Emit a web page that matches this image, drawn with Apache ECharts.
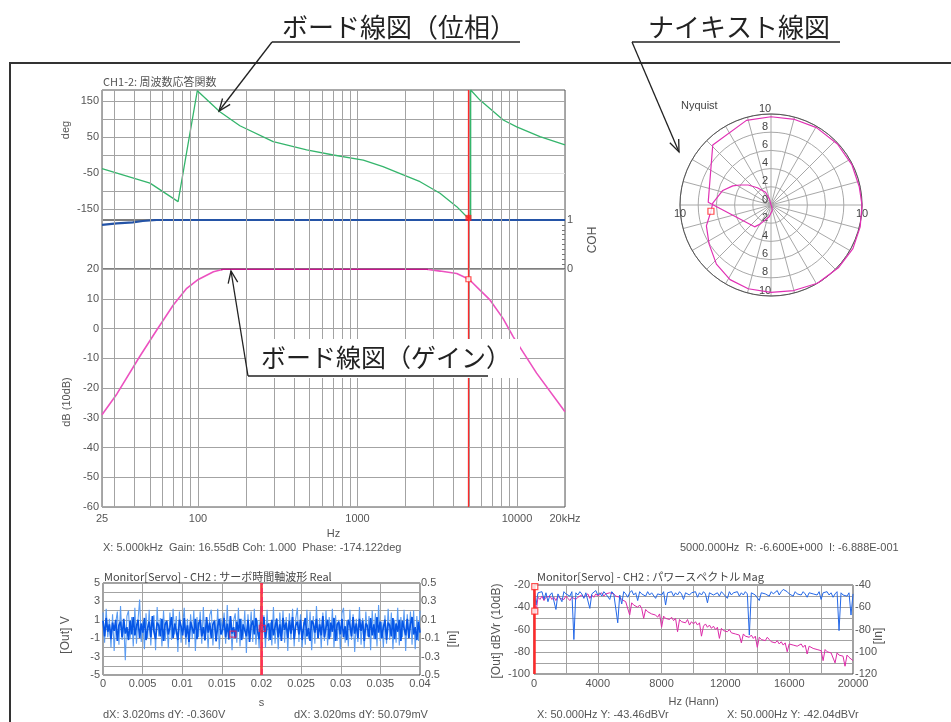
<!DOCTYPE html>
<html><head><meta charset="utf-8">
<script src="https://cdn.jsdelivr.net/npm/echarts@6/dist/echarts.min.js"></script>
<style>html,body{margin:0;padding:0;background:#fff}#c{width:951px;height:722px}</style>
</head><body><div id="c"></div>
<script>
// ---------------- data ----------------
const phaseFreq = [25, 50, 75, 99, 137, 183, 296, 480, 705, 1087, 1445, 1936, 2467, 3290, 4190, 4840, 5000, 5124, 5124, 5860, 8200, 9960, 13930, 20000];
const phaseDeg  = [-38, -78, -129, 178, 120, 81, 37, 14, 0, -14, -32, -55, -74, -106, -143, -171, -174, -180, 180, 152, 97, 78, 51, 28];
const gainFreq = [25, 31, 43, 55, 70, 85, 99, 125, 144, 2717, 3290, 4190, 5000, 5860, 6770, 8170, 9480, 13270, 20000];
const gainDb   = [-29, -22, -9.5, -0.6, 7.9, 13.5, 16.3, 19.1, 19.9, 19.9, 19.3, 18.5, 16.55, 12.9, 9.6, 3.4, -2.8, -15, -28];
const cohFreq = [25, 31, 39, 45, 55, 20000];
const cohVal  = [0.9, 0.93, 0.95, 0.98, 1, 1];
const minorFreqs = [30,40,50,60,70,80,90,200,300,400,500,600,700,800,900,2000,3000,4000,5000,6000,7000,8000,9000];
const phaseGridVals = [-150,-100,-50,0,50,100,150];
const phaseLabelVals = [-150,-50,50,150];
const cursorFreq = 4960, cursorPhase = -174.122, cursorGain = 16.55;

const nyqRe = [0.02, 0.1, 0.13, -0.2, -1.2, -1.8, -6.9, -6.4, -2.7, 0.0, 2.6, 5.0, 7.3, 8.9, 9.7, 10.0, 9.8, 9.0, 7.4, 5.1, 2.5, 0.0, -2.5, -4.5, -6.0, -6.8, -7.1, -6.6, -6.4, -5.3, -4.2, -3.4, -2.5, -1.5, -0.6, -0.15, 0.0];
const nyqIm = [-0.01, -0.25, -0.6, -1.3, -2.1, -2.4, 0.3, 6.6, 9.3, 9.7, 9.4, 8.5, 6.7, 4.4, 2.0, 0.0, -2.4, -4.8, -6.9, -8.6, -9.4, -9.6, -9.2, -8.2, -6.5, -4.3, -2.3, -0.69, 0.2, 1.6, 2.1, 2.2, 2.2, 1.9, 1.4, 0.6, 0.0];
const nyqCursor = [-6.6, -0.6888];

const timeEnd = 0.04;
const timeDark = [
0.9,-0.8,1.2,-0.3,0.5,-1.1,0.7,-0.2,1.0,-1.3,0.4,0.8,-0.9,1.1,-0.5,0.2,-1.2,0.9,-0.6,1.3,
-0.7,0.3,1.0,-1.0,0.6,-0.4,1.2,-1.2,0.1,0.8,-0.9,1.4,-0.3,-1.1,0.7,0.4,-0.8,1.1,-1.3,0.5,
0.9,-0.6,0.2,1.3,-1.0,0.6,-0.2,-1.2,1.0,0.3,-0.7,1.2,-0.9,0.4,-1.4,0.8,0.1,-0.5,1.1,-1.1,
0.6,1.0,-0.8,0.2,-1.2,1.3,-0.4,0.7,-1.0,0.5,0.9,-1.3,0.3,1.1,-0.6,-0.1,1.2,-0.9,0.6,-1.1,
1.4,-0.5,0.2,-1.0,0.8,-0.3,1.1,-1.2,0.5,0.7,-0.8,1.0,-1.4,0.4,0.9,-0.6,1.2,-0.2,-1.1,0.8,
-0.4,1.3,-1.0,0.3,0.6,-1.2,1.0,-0.7,0.2,1.1,-0.9,0.5,-1.3,1.2,-0.1,0.7,-1.0,0.9,-0.5,1.3,
-1.1,0.4,0.8,-0.6,1.0,-1.2,0.3,1.2,-0.8,0.1,-1.3,0.9,0.6,-0.4,1.1,-1.0,0.5,-0.7,1.4,-0.9,
0.2,1.0,-1.1,0.7,-0.3,1.2,-1.3,0.5,0.8,-0.6,1.1,-0.9,0.3,-1.2,1.0,0.4,-0.8,1.3,-0.5,0.6,
-1.0,1.1,-0.2,0.9,-1.3,0.6,0.3,-0.9,1.2,-0.7,0.5,-1.1,1.3,-0.4,0.8,-1.0,0.2,1.0,-1.2,0.7,
0.4,-0.8,1.2,-1.1,0.6,-0.3,1.0,-1.3,0.9,0.1,-0.7,1.1,-1.0,0.5,1.3,-0.6,0.2,-1.2,0.8,-0.4];
const timeLight = [
1.8,-1.5,2.2,-0.9,1.1,-2.0,1.6,-2.4,0.7,1.9,-1.7,2.5,-1.2,0.6,-3.4,1.4,2.0,-1.1,1.3,-1.9,
2.3,-1.6,1.0,3.2,-1.4,0.8,-2.2,1.7,-1.0,2.1,-1.8,0.9,1.5,-2.3,2.4,-0.8,1.2,-1.9,2.0,-1.3,
0.7,-2.1,1.8,-1.2,2.2,-0.6,1.4,-2.5,1.9,-1.5,0.5,2.3,-1.7,1.1,-2.0,1.6,-1.1,2.0,-2.4,1.3,
-0.9,1.9,-1.6,2.4,-1.3,0.8,-2.1,1.5,2.1,-1.8,1.0,-1.4,2.2,-2.2,1.2,-0.7,1.8,-1.6,2.6,-1.2,
1.4,-2.3,0.9,1.7,-1.5,2.3,-1.9,1.1,-1.0,2.0,-2.6,1.6,-0.8,1.9,-1.4,2.2,-1.7,1.0,-2.1,2.5,
-1.1,1.5,-2.0,2.1,-1.3,0.7,-1.8,2.4,-1.6,1.2,-2.2,1.8,-0.9,2.0,-1.5,1.3,-2.4,1.7,-1.2,2.2,
-1.9,1.1,2.3,-1.4,1.6,-2.0,0.8,-1.7,2.1,-1.1,1.9,-2.3,1.4,-1.6,2.5,-1.0,1.2,-2.1,1.8,-1.3,
2.0,-1.8,1.3,-0.9,2.2,-2.0,1.5,-1.3,1.0,-2.2,1.7,2.3,-1.5,0.9,-1.9,2.1,-1.2,1.6,-2.5,1.1,
-1.4,2.4,-1.7,1.2,-2.1,1.9,-0.8,1.4,-2.3,2.0,-1.1,1.7,-1.9,2.6,-1.3,0.8,-2.0,1.5,-1.6,2.2,
-1.2,1.8,-2.2,1.0,-1.5,2.3,-1.8,1.3,-0.9,2.1,-2.4,1.6,-1.0,1.9,-1.7,2.0,-2.2,1.4,-1.3,2.0];
const timeCursorA = 0.0164, timeCursorB = 0.0201;
const timeMarks = [[0.0164, -0.55], [0.0201, 0.07]];

const specStep = 125;
const specBlue = [
-22,-38,-27,-28,-26,-33,-27,-35,-29,-27,-26,-42,-28,-27,-35,-26,-28,-27,-30,-26,
-69,-27,-29,-26,-28,-32,-27,-26,-41,-28,-27,-25,-29,-27,-30,-26,-28,-27,-33,-26,
-28,-27,-54,-29,-37,-26,-28,-31,-27,-25,-29,-27,-34,-26,-28,-27,-30,-26,-29,-27,
-26,-32,-28,-27,-29,-26,-38,-27,-28,-26,-30,-27,-29,-26,-28,-33,-27,-26,-29,-27,
-28,-26,-31,-27,-29,-26,-28,-36,-27,-26,-29,-28,-27,-30,-26,-28,-27,-32,-26,-29,
-27,-28,-26,-30,-27,-29,-26,-28,-65,-27,-26,-29,-28,-34,-27,-26,-28,-27,-30,-26,
-28,-27,-25,-29,-26,-24,-25,-26,-28,-27,-30,-26,-28,-27,-29,-26,-28,-31,-27,-26,
-28,-27,-29,-26,-33,-27,-28,-26,-29,-27,-31,-28,-26,-61,-27,-29,-28,-30,-27,-47,-28];
const specMag = [
-32,-45,-31,-33,-30,-34,-31,-32,-30,-33,-31,-34,-30,-32,-31,-33,-30,-32,-34,-31,
-30,-33,-31,-32,-29,-31,-30,-28,-32,-29,-31,-28,-30,-29,-27,-30,-28,-29,-27,-28,
-28,-30,-29,-31,-33,-32,-35,-34,-47,-36,-38,-37,-40,-38,-41,-50,-42,-44,-43,-46,
-45,-47,-49,-46,-58,-48,-50,-49,-51,-49,-52,-50,-62,-51,-53,-52,-54,-51,-56,-53,
-55,-53,-56,-54,-66,-57,-55,-58,-56,-59,-57,-60,-58,-68,-59,-61,-60,-62,-60,-63,
-62,-64,-63,-65,-72,-64,-66,-65,-67,-65,-68,-66,-76,-67,-69,-68,-70,-67,-69,-71,
-70,-72,-70,-73,-71,-74,-72,-80,-73,-72,-74,-73,-75,-74,-73,-76,-74,-82,-75,-76,
-77,-76,-78,-77,-79,-88,-78,-80,-79,-81,-80,-90,-81,-83,-82,-84,-93,-83,-85,-84,-88];
const specCursor = 0;
const specMarks = [[50, -21.5], [50, -43.46]];

// ---------------- helpers ----------------
const pairs = (xs, ys) => xs.map((x, i) => [x, ys[i]]);
const FONT = '"Liberation Sans", "DejaVu Sans", sans-serif';
const JFONT = '"Noto Sans CJK JP", "Liberation Sans", sans-serif';
const lab = {color: '#555', fontSize: 11, fontFamily: FONT};
const GRID_C = '#a3a3a3';

function txt(x, y, text, o) {
  o = o || {};
  return {type: 'text', x: x, y: y, z: 100, rotation: o.rot || 0,
    style: {text: text, fill: o.color || '#555', font: o.font || ('11px ' + FONT),
      align: o.align || 'left', verticalAlign: o.va || 'middle'}};
}
function seg(x1, y1, x2, y2, w, c) {
  return {type: 'line', z: 100, shape: {x1, y1, x2, y2}, style: {stroke: c || '#222', lineWidth: w || 1.3}};
}
function arrowHead(from, tip) {
  const dx = from[0] - tip[0], dy = from[1] - tip[1];
  const L = Math.hypot(dx, dy), ux = dx / L, uy = dy / L, a = 0.38, len = 13;
  const p = (s) => [tip[0] + len * (ux * Math.cos(s * a) - uy * Math.sin(s * a)),
                    tip[1] + len * (ux * Math.sin(s * a) + uy * Math.cos(s * a))];
  return {type: 'polyline', z: 100, shape: {points: [p(1), tip, p(-1)]}, style: {stroke: '#222', fill: null, lineWidth: 1.3}};
}
const minorLines = (xi, yi) => ({
  type: 'line', xAxisIndex: xi, yAxisIndex: yi, data: [], z: 1, silent: true,
  markLine: {silent: true, symbol: 'none', label: {show: false}, animation: false,
    lineStyle: {color: GRID_C, type: 'solid', width: 1},
    data: minorFreqs.map(f => ({xAxis: f}))}
});
const cursorLine = (v, style) => ({silent: true, symbol: 'none', label: {show: false}, animation: false,
  lineStyle: style, data: [{xAxis: v}]});
const RED_CURSOR = {color: '#ff2a2a', width: 1.3, type: 'solid'};

const bodeX = (gi, showLabel) => ({
  gridIndex: gi, type: 'log', logBase: 10, min: 25, max: 20000,
  axisLine: {show: false}, axisTick: {show: false},
  axisLabel: showLabel ? Object.assign({margin: 6, formatter: v => {
      const r = Math.round(v); return r === 20000 ? '20kHz' : String(r); }}, lab) : {show: false},
  splitLine: {show: true, lineStyle: {color: GRID_C}},
  name: showLabel ? 'Hz' : '', nameLocation: 'middle', nameGap: 21,
  nameTextStyle: {color: '#555', fontSize: 11, fontFamily: FONT}
});

// ---------------- option ----------------
const option = {
  animation: false,
  backgroundColor: '#fff',
  grid: [
    {left: 102, top: 90, width: 463, height: 130, show: true, borderColor: '#555', borderWidth: 1},
    {left: 102, top: 220, width: 463, height: 49, show: true, borderColor: '#555', borderWidth: 1},
    {left: 102, top: 269, width: 463, height: 238, show: true, borderColor: '#555', borderWidth: 1},
    {left: 680, top: 114, width: 182, height: 182},
    {left: 103, top: 583, width: 317, height: 92, show: true, borderColor: '#444', borderWidth: 1},
    {left: 534, top: 585, width: 319, height: 89, show: true, borderColor: '#444', borderWidth: 1}
  ],
  polar: {center: [771, 205], radius: 91},
  angleAxis: {type: 'value', min: 0, max: 360, interval: 15, startAngle: 0,
    axisLine: {show: true, lineStyle: {color: '#555', width: 1}},
    axisTick: {show: false}, axisLabel: {show: false},
    splitLine: {show: true, lineStyle: {color: '#a8a8a8'}}},
  radiusAxis: {type: 'value', min: 0, max: 10, interval: 2,
    axisLine: {show: false}, axisTick: {show: false}, axisLabel: {show: false},
    splitLine: {show: true, lineStyle: {color: '#a8a8a8'}}},
  xAxis: [
    bodeX(0, false), bodeX(1, false), bodeX(2, true),
    {gridIndex: 3, type: 'value', min: -10, max: 10, interval: 2, position: 'bottom', offset: -91,
      axisLine: {show: false, onZero: false}, axisTick: {show: false},
      splitLine: {show: false},
      axisLabel: Object.assign({margin: 3, formatter: v => Math.abs(v) === 10 ? '10' : ''}, lab, {color: '#444'})},
    {gridIndex: 4, type: 'value', min: 0, max: timeEnd, interval: 0.005,
      axisLine: {show: false}, axisTick: {show: false},
      splitLine: {show: true, lineStyle: {color: GRID_C}},
      axisLabel: Object.assign({margin: 3, formatter: v => String(+v.toFixed(3))}, lab),
      name: 's', nameLocation: 'middle', nameGap: 22, nameTextStyle: {color: '#555', fontSize: 11, fontFamily: FONT}},
    {gridIndex: 5, type: 'value', min: 0, max: 20000, interval: 2000,
      axisLine: {show: false}, axisTick: {show: false},
      splitLine: {show: true, lineStyle: {color: GRID_C}},
      axisLabel: Object.assign({margin: 4, formatter: v => v % 4000 === 0 ? String(v) : ''}, lab),
      name: 'Hz (Hann)', nameLocation: 'middle', nameGap: 22, nameTextStyle: {color: '#555', fontSize: 11, fontFamily: FONT}}
  ],
  yAxis: [
    {gridIndex: 0, type: 'value', min: -180, max: 180,
      axisLine: {show: false}, axisTick: {show: false, customValues: phaseGridVals},
      axisLabel: Object.assign({margin: 3, customValues: phaseLabelVals}, lab),
      splitLine: {show: true, lineStyle: {color: phaseGridVals.map(v => v === -50 ? '#e4e4e4' : GRID_C)}}},
    {gridIndex: 1, type: 'value', position: 'right', min: 0, max: 1, interval: 1,
      axisLine: {show: false}, axisTick: {show: true, inside: true, length: 0},
      minorTick: {show: true, splitNumber: 10, length: 3, lineStyle: {color: '#777'}},
      axisLabel: Object.assign({margin: 2}, lab), splitLine: {show: false}},
    {gridIndex: 2, type: 'value', min: -60, max: 20, interval: 10,
      axisLine: {show: false}, axisTick: {show: false},
      axisLabel: Object.assign({margin: 3}, lab),
      splitLine: {show: true, lineStyle: {color: GRID_C}}},
    {gridIndex: 3, type: 'value', min: -10, max: 10, interval: 2, position: 'left', offset: -91,
      axisLine: {show: false, onZero: false}, axisTick: {show: false},
      splitLine: {show: false},
      axisLabel: Object.assign({margin: 6, align: 'center', verticalAlign: 'bottom',
        formatter: v => String(Math.abs(Math.round(v)))}, lab, {color: '#444'})},
    {gridIndex: 4, type: 'value', min: -5, max: 5, interval: 1,
      axisLine: {show: false}, axisTick: {show: false},
      axisLabel: Object.assign({margin: 3, formatter: v => Math.abs(Math.round(v)) % 2 === 1 ? String(Math.round(v)) : ''}, lab),
      splitLine: {show: true, lineStyle: {color: GRID_C}}},
    {gridIndex: 4, type: 'value', position: 'right', min: -0.5, max: 0.5, interval: 0.1,
      axisLine: {show: false}, axisTick: {show: false}, splitLine: {show: false},
      axisLabel: Object.assign({margin: 1, formatter: v => {
        const k = Math.round(v * 10); return Math.abs(k) % 2 === 1 ? (k / 10).toFixed(1) : ''; }}, lab)},
    {gridIndex: 5, type: 'value', min: -100, max: -20, interval: 10,
      axisLine: {show: false}, axisTick: {show: false},
      axisLabel: Object.assign({margin: 4, formatter: v => v % 20 === 0 ? String(v) : ''}, lab),
      splitLine: {show: true, lineStyle: {color: GRID_C}}},
    {gridIndex: 5, type: 'value', position: 'right', min: -120, max: -40, interval: 20,
      axisLine: {show: false}, axisTick: {show: false}, splitLine: {show: false},
      axisLabel: Object.assign({margin: 2}, lab)}
  ],
  visualMap: [{type: 'piecewise', show: false, seriesIndex: 5, dimension: 0,
    pieces: [{gte: 140, lte: 2750, color: '#c8158f'}], outOfRange: {color: '#ec52c0'}}],
  series: [
    minorLines(0, 0), minorLines(1, 1), minorLines(2, 2),
    {type: 'line', name: 'Phase', xAxisIndex: 0, yAxisIndex: 0, z: 3, symbol: 'none',
      data: pairs(phaseFreq, phaseDeg), lineStyle: {color: '#35b56c', width: 1.3}},
    {type: 'line', name: 'COH', xAxisIndex: 1, yAxisIndex: 1, z: 3, symbol: 'none',
      data: pairs(cohFreq, cohVal), lineStyle: {color: '#2453a6', width: 2.2},
      markLine: cursorLine(cursorFreq, RED_CURSOR)},
    {type: 'line', name: 'Gain', xAxisIndex: 2, yAxisIndex: 2, z: 3, symbol: 'none',
      data: pairs(gainFreq, gainDb), lineStyle: {width: 1.6}},
    {type: 'scatter', xAxisIndex: 0, yAxisIndex: 0, z: 5, symbol: 'rect', symbolSize: 6,
      itemStyle: {color: '#ff2020'}, data: [[cursorFreq, cursorPhase]],
      markLine: cursorLine(cursorFreq, RED_CURSOR)},
    {type: 'scatter', xAxisIndex: 2, yAxisIndex: 2, z: 5, symbol: 'rect', symbolSize: 5,
      itemStyle: {color: '#fff', borderColor: '#ff2020', borderWidth: 1.2}, data: [[cursorFreq, cursorGain]],
      markLine: cursorLine(cursorFreq, RED_CURSOR)},
    {type: 'line', name: 'Nyquist', xAxisIndex: 3, yAxisIndex: 3, z: 3, symbol: 'none',
      data: pairs(nyqRe, nyqIm), lineStyle: {color: '#e030b4', width: 1.2}},
    {type: 'scatter', xAxisIndex: 3, yAxisIndex: 3, z: 5, symbol: 'rect', symbolSize: 6,
      itemStyle: {color: '#fff', borderColor: '#ff2020', borderWidth: 1.2}, data: [nyqCursor]},
    {type: 'line', xAxisIndex: 4, yAxisIndex: 4, z: 3, symbol: 'none',
      data: timeLight.map((v, i) => [i * timeEnd / (timeLight.length - 1), v]),
      lineStyle: {color: '#5b9cf2', width: 1.1}},
    {type: 'line', xAxisIndex: 4, yAxisIndex: 4, z: 4, symbol: 'none',
      data: timeDark.map((v, i) => [i * timeEnd / (timeDark.length - 1), v]),
      lineStyle: {color: '#0656e6', width: 1.7},
      markLine: {silent: true, symbol: 'none', label: {show: false}, animation: false,
        data: [{xAxis: timeCursorA, lineStyle: {color: '#ff33ff', type: 'dashed', width: 1.5}},
               {xAxis: timeCursorB, lineStyle: {color: 'rgba(255,40,40,0.75)', type: 'solid', width: 3}}]}},
    {type: 'scatter', xAxisIndex: 4, yAxisIndex: 4, z: 6, symbol: 'rect', symbolSize: 6,
      itemStyle: {color: 'rgba(255,255,255,0)', borderColor: '#e0205a', borderWidth: 1.2}, data: timeMarks},
    {type: 'line', xAxisIndex: 5, yAxisIndex: 6, z: 3, symbol: 'none',
      data: specMag.map((v, i) => [i * specStep, v]), lineStyle: {color: '#dc2aa8', width: 1}},
    {type: 'line', xAxisIndex: 5, yAxisIndex: 6, z: 4, symbol: 'none',
      data: specBlue.map((v, i) => [i * specStep, v]), lineStyle: {color: '#2468e8', width: 1},
      markLine: cursorLine(specCursor, {color: '#ff2a2a', width: 2.5, type: 'solid'})},
    {type: 'scatter', xAxisIndex: 5, yAxisIndex: 6, z: 6, symbol: 'rect', symbolSize: 6,
      itemStyle: {color: '#fff', borderColor: '#ff2020', borderWidth: 1.2}, data: specMarks}
  ],
  graphic: [
    // outer frame
    {type: 'polyline', z: 100, shape: {points: [[10, 722], [10, 63], [951, 63]]}, style: {stroke: '#333', fill: null, lineWidth: 2}},
    // plot titles and readouts
    txt(103, 82, 'CH1-2: 周波数応答関数', {font: '11px ' + JFONT}),
    txt(681, 106, 'Nyquist', {font: '11px ' + FONT, color: '#444'}),
    txt(103, 548, 'X: 5.000kHz  Gain: 16.55dB Coh: 1.000  Phase: -174.122deg'),
    txt(680, 548, '5000.000Hz  R: -6.600E+000  I: -6.888E-001'),
    txt(104, 577, 'Monitor[Servo] - CH2 : サーボ時間軸波形 Real', {font: '11px ' + JFONT, color: '#444'}),
    txt(537, 577, 'Monitor[Servo] - CH2 : パワースペクトル Mag', {font: '11px ' + JFONT, color: '#444'}),
    txt(103, 715, 'dX: 3.020ms dY: -0.360V'),
    txt(294, 715, 'dX: 3.020ms dY: 50.079mV'),
    txt(537, 715, 'X: 50.000Hz Y: -43.46dBVr'),
    txt(727, 715, 'X: 50.000Hz Y: -42.04dBVr'),
    // rotated axis names
    txt(66, 130, 'deg', {rot: Math.PI / 2, align: 'center'}),
    txt(67, 402, 'dB (10dB)', {rot: Math.PI / 2, align: 'center'}),
    txt(593, 240, 'COH', {rot: Math.PI / 2, align: 'center', font: '12px ' + FONT}),
    txt(66, 635, '[Out] V', {rot: Math.PI / 2, align: 'center', font: '12px ' + FONT}),
    txt(453, 639, '[In]', {rot: Math.PI / 2, align: 'center', font: '12px ' + FONT}),
    txt(497, 631, '[Out] dBVr (10dB)', {rot: Math.PI / 2, align: 'center', font: '12px ' + FONT}),
    txt(879, 636, '[In]', {rot: Math.PI / 2, align: 'center', font: '12px ' + FONT}),
    // annotation: phase
    txt(282, 27, 'ボード線図（位相）', {font: '26px ' + JFONT, color: '#222'}),
    seg(272, 42, 520, 42, 1.5),
    seg(272, 42, 219, 111, 1.3),
    arrowHead([272, 42], [219, 111]),
    // annotation: nyquist
    txt(648, 27, 'ナイキスト線図', {font: '26px ' + JFONT, color: '#222'}),
    seg(632, 42, 840, 42, 1.5),
    seg(632, 42, 679, 152, 1.3),
    arrowHead([632, 42], [679, 152]),
    // annotation: gain
    {type: 'rect', z: 99, shape: {x: 247, y: 339, width: 273, height: 39}, style: {fill: '#fff'}},
    txt(261, 357, 'ボード線図（ゲイン）', {font: '25px ' + JFONT, color: '#222'}),
    seg(248, 376, 488, 376, 1.5),
    seg(248, 376, 231, 271, 1.3),
    arrowHead([248, 376], [231, 271])
  ]
};
const chart = echarts.init(document.getElementById('c'), null, {renderer: 'canvas'});
chart.setOption(option);
</script>
</body></html>
